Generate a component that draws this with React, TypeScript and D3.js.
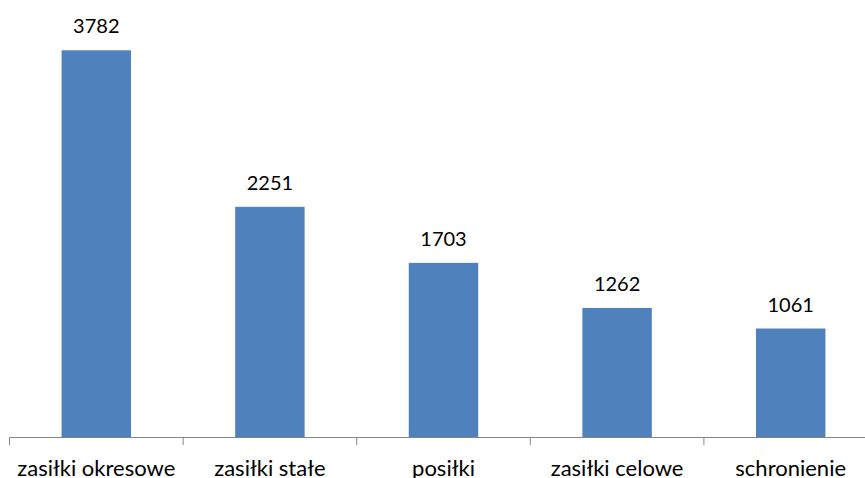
import React, { useRef, useEffect } from "react";
import * as d3 from "d3";

const categories = ["zasiłki okresowe", "zasiłki stałe", "posiłki", "zasiłki celowe", "schronienie"];
const values = [3782, 2251, 1703, 1262, 1061];

const W = 865;
const H = 478;

const App = () => {
  const svgRef = useRef<SVGSVGElement>(null);

  useEffect(() => {
    const svg = d3.select(svgRef.current);
    svg.selectAll("*").remove();

    const x = d3.scaleBand().domain(categories).range([9.5, 9.5 + 173.6 * 5]).paddingInner(0.6).paddingOuter(0.3);
    const y = d3.scaleLinear().domain([0, 4000]).range([437, 28]);

    svg
      .selectAll(".bar")
      .data(values)
      .join("rect")
      .attr("class", "bar")
      .attr("x", (d, i) => x(categories[i])!)
      .attr("y", (d) => y(d))
      .attr("width", x.bandwidth())
      .attr("height", (d) => y(0) - y(d))
      .attr("fill", "#4f81bd");

    svg
      .selectAll(".val")
      .data(values)
      .join("text")
      .attr("class", "val")
      .attr("x", (d, i) => x(categories[i])! + x.bandwidth() / 2)
      .attr("y", (d) => y(d) - 17)
      .attr("text-anchor", "middle")
      .attr("font-family", "Lato")
      .attr("font-size", 20)
      .attr("fill", "#000")
      .text((d) => d);

    // axis line and ticks between categories
    const step = x.step();
    const left = 9.5;
    svg
      .append("line")
      .attr("x1", left)
      .attr("x2", W)
      .attr("y1", 437.5)
      .attr("y2", 437.5)
      .attr("stroke", "#868686")
      .attr("stroke-width", 1);

    svg
      .selectAll(".tick")
      .data(d3.range(categories.length + 1))
      .join("line")
      .attr("class", "tick")
      .attr("x1", (i) => left + i * step)
      .attr("x2", (i) => left + i * step)
      .attr("y1", 437.5)
      .attr("y2", 445)
      .attr("stroke", "#868686");

    svg
      .selectAll(".cat")
      .data(categories)
      .join("text")
      .attr("class", "cat")
      .attr("x", (d) => x(d)! + x.bandwidth() / 2)
      .attr("y", 476)
      .attr("text-anchor", "middle")
      .attr("font-family", "Lato")
      .attr("font-size", 22)
      .attr("fill", "#000")
      .text((d) => d);
  }, []);

  return (
    <div style={{ position: "absolute", left: 0, top: 0 }}>
      <svg ref={svgRef} width={W} height={H} style={{ display: "block", background: "#fff" }}></svg>
    </div>
  );
};

export default App;
